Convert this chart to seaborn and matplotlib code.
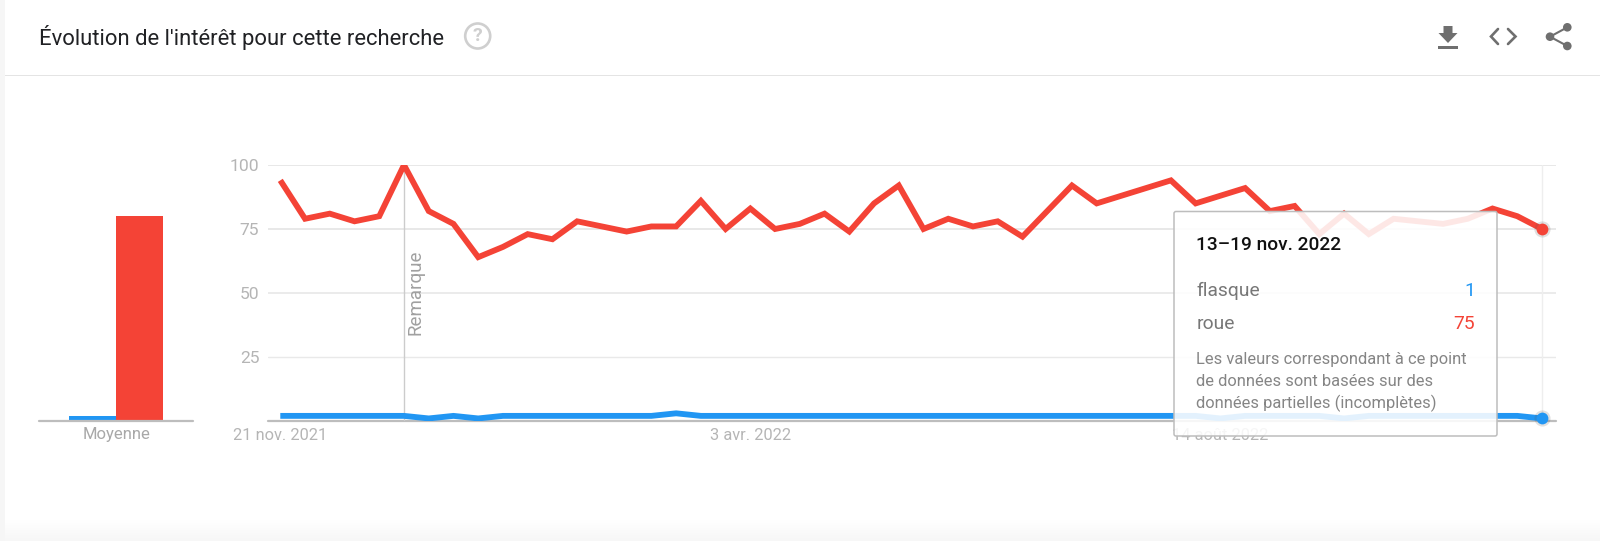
import numpy as np
import pandas as pd
import matplotlib
matplotlib.use("Agg")
import matplotlib.pyplot as plt
import matplotlib.dates as mdates
from matplotlib.patches import Circle, FancyBboxPatch, Polygon, Rectangle
import seaborn as sns

# ---- data ----
start_week = "2021-11-21"
red_values = [94, 79, 81, 78, 80, 100, 82, 77, 64, 68, 73, 71, 78, 76, 74, 76, 76, 86,
              75, 83, 75, 77, 81, 74, 85, 92, 75, 79, 76, 78, 72, 82, 92, 85, 88, 91,
              94, 85, 88, 91, 82, 84, 73, 81, 73, 79, 78, 77, 79, 83, 80, 75]
blue_values = [2, 2, 2, 2, 2, 2, 1, 2, 1, 2, 2, 2, 2, 2, 2, 2, 3, 2,
               2, 2, 2, 2, 2, 2, 2, 2, 2, 2, 2, 2, 2, 2, 2, 2, 2, 2,
               2, 2, 1, 2, 2, 2, 2, 1, 2, 2, 2, 2, 2, 2, 2, 1]
series_names = ["flasque", "roue"]
mean_values = [2, 80]
y_ticks = [0, 25, 50, 75, 100]
y_tick_labels = ["", "25", "50", "75", "100"]
x_tick_dates = ["2021-11-21", "2022-04-03", "2022-08-14"]
x_tick_labels = ["21 nov. 2021", "3 avr. 2022", "14 août 2022"]
title = "Évolution de l'intérêt pour cette recherche"
tooltip_title = "13–19 nov. 2022"
tooltip_note = ["Les valeurs correspondant à ce point",
                "de données sont basées sur des",
                "données partielles (incomplètes)"]

BLUE, RED = "#2196f3", "#f44336"
W, H = 1600, 541

sns.set_theme(style="white")
plt.rcParams["font.family"] = ["Roboto", "DejaVu Sans"]

fig = plt.figure(figsize=(W / 100, H / 100), dpi=100, facecolor="white")


def px_axes(x0, y0, x1, y1, **kw):
    return fig.add_axes([x0 / W, 1 - y1 / H, (x1 - x0) / W, (y1 - y0) / H], **kw)


dates = pd.date_range(start_week, periods=len(red_values), freq="7D")
df = pd.DataFrame({"date": dates, "flasque": blue_values, "roue": red_values})
long_df = df.melt("date", var_name="terme", value_name="valeur")

# ---- time-series panel ----
ax = px_axes(267.7, 165, 1555.7, 421)
ax.patch.set_alpha(0)
first_px, last_px = 280.3, 1542.0
px_per_day = (last_px - first_px) / ((dates[-1] - dates[0]).days)
d0 = mdates.date2num(dates[0])
ax.set_xlim(d0 - (first_px - 267.7) / px_per_day, d0 + (1555.7 - first_px) / px_per_day)
ax.set_ylim(0, 100)
for v, c, lw in [(25, "#e9e9e9", 1.0), (50, "#e9e9e9", 1.3), (75, "#e6e6e6", 1.3), (100, "#e6e6e6", 1.3)]:
    ax.axhline(v, color=c, lw=lw, zorder=1)
ax.axhline(0, color="#bdbdbd", lw=1.6, zorder=1, clip_on=False)
ax.axvline(dates[5], color="#cccccc", lw=1.0, zorder=1.5)
ax.axvline(dates[-1], color="#eeeeee", lw=1.0, zorder=1.5)
sns.lineplot(data=long_df, x="date", y="valeur", hue="terme", hue_order=series_names,
             palette=[BLUE, RED], lw=4.2, legend=False, ax=ax, zorder=3, clip_on=True,
             solid_joinstyle="miter", solid_capstyle="butt")
for vals, col in [(blue_values, BLUE), (red_values, RED)]:
    sns.scatterplot(x=[dates[-1]], y=[vals[-1]], color="#555555", alpha=0.18, s=135, lw=0,
                    ax=ax, zorder=4, clip_on=False, legend=False)
    sns.scatterplot(x=[dates[-1]], y=[vals[-1]], color=col, s=72, lw=0,
                    ax=ax, zorder=5, clip_on=False, legend=False)
ax.set_xlabel("")
ax.set_ylabel("")
ax.set_yticks(y_ticks, y_tick_labels)
ax.set_xticks(mdates.date2num(pd.to_datetime(x_tick_dates)), x_tick_labels)
ax.tick_params(axis="both", length=0, labelcolor="#b5b5b5")
ax.tick_params(axis="y", pad=6, labelsize=12.6)
ax.tick_params(axis="x", pad=5, labelsize=11.8)
sns.despine(ax=ax, left=True, bottom=True, top=True, right=True)

# ---- mean bars ----
bx = px_axes(39, 165, 193, 421)
bx.patch.set_alpha(0)
sns.barplot(x=series_names, y=mean_values, hue=series_names, palette=[BLUE, RED], width=1.0,
            legend=False, ax=bx, saturation=1, lw=0)
step = 46.7
bx.set_xlim((39 - 92.8) / step, (193 - 92.8) / step)
bx.set_ylim(0, 100)
bx.axhline(0, color="#bdbdbd", lw=1.6, clip_on=False)
bx.set_yticks([])
bx.set_xticks([0.5], ["Moyenne"])
bx.tick_params(axis="x", length=0, labelsize=12.0, labelcolor="#a8a8a8", pad=4.5)
bx.set_xlabel("")
bx.set_ylabel("")
sns.despine(ax=bx, left=True, bottom=True)

# ---- page overlay (header, icons, tooltip), in pixel coordinates ----
ov = fig.add_axes([0, 0, 1, 1], zorder=10)
ov.set_xlim(0, W)
ov.set_ylim(H, 0)
ov.axis("off")
ov.add_patch(Rectangle((0, 0), 5, H, color="#f6f6f6", lw=0))
ov.add_patch(Rectangle((5, 74.5), W, 1.4, color="#e4e4e4", lw=0))
# soft shadow at the bottom edge of the card
shade = np.linspace(1.0, 0.965, 24).reshape(-1, 1)
ov.imshow(shade, cmap="gray", vmin=0, vmax=1, extent=(5, W, H, H - 24), aspect="auto", zorder=0)
ov.set_xlim(0, W)
ov.set_ylim(H, 0)
ov.text(39, 37.5, title, fontsize=15.85, color="#202124", va="center", ha="left")

# help icon
ov.add_patch(Circle((477.7, 36), 12.5, fill=False, ec="#cfcfcf", lw=1.9))
ov.text(477.7, 36, "?", fontsize=14, color="#cfcfcf", ha="center", va="center", fontweight="bold")

# download icon
GREY = "#6f6f6f"
ov.add_patch(Polygon([(1443.5, 26), (1452.5, 26), (1452.5, 33), (1457.5, 33), (1448, 43),
                      (1438.5, 33), (1443.5, 33)], color=GREY, lw=0))
ov.add_patch(Rectangle((1438, 46.3), 19.5, 2.4, color=GREY, lw=0))
# code icon
ov.plot([1498, 1491, 1498], [29, 36.5, 44], color=GREY, lw=1.9, solid_joinstyle="miter")
ov.plot([1508, 1515.5, 1508], [29, 36.5, 44], color=GREY, lw=1.9, solid_joinstyle="miter")
# share icon
ov.plot([1567.3, 1550, 1567.3], [27.3, 36.7, 46], color=GREY, lw=1.5)
for cx, cy in [(1550, 36.7), (1567.3, 27.3), (1567.3, 46)]:
    ov.add_patch(Circle((cx, cy), 4.3, color=GREY, lw=0))

# "Remarque" label
ov.text(416, 292.5, "Remarque", rotation=90, fontsize=13.5, color="#a0a0a0", ha="center", va="center")

# tooltip
ov.add_patch(FancyBboxPatch((1174, 211.5), 323, 224.5, boxstyle="round,pad=0,rounding_size=2",
                            fc=(1, 1, 1, 0.88), ec="#bdbdbd", lw=1.1))
ov.text(1196.5, 245, tooltip_title, fontsize=13.8, color="#111111", fontweight="medium", va="center")
ov.text(1196.5, 291, series_names[0], fontsize=13.9, color="#777777", va="center")
ov.text(1196.5, 324, series_names[1], fontsize=13.9, color="#777777", va="center")
ov.text(1475, 291, str(blue_values[-1]), fontsize=13.9, color=BLUE, va="center", ha="right")
ov.text(1475, 324, str(red_values[-1]), fontsize=13.9, color=RED, va="center", ha="right")
for y, line in zip([359.5, 381.5, 403.5], tooltip_note):
    ov.text(1196.5, y, line, fontsize=11.9, color="#858585", va="center")

fig.savefig("out.png", dpi=100, facecolor="white")
